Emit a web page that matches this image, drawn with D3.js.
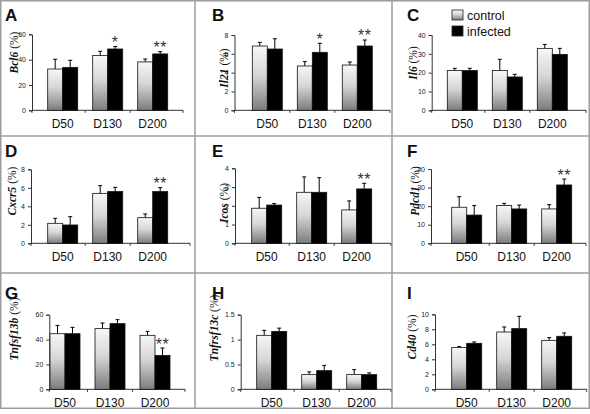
<!DOCTYPE html>
<html><head><meta charset="utf-8">
<script src="https://cdn.jsdelivr.net/npm/d3@7"></script>
<style>body{margin:0;background:#fff}svg{display:block}</style>
</head><body><svg id="c" width="590" height="414"></svg>
<script>
// ---- data ----
const categories = ["D50", "D130", "D200"];
const seriesNames = ["control", "infected"];
const panelLetters = ["A", "B", "C", "D", "E", "F", "G", "H", "I"];
const genes = ["Bcl6", "Il21", "Il6", "Cxcr5", "Icos", "Pdcd1", "Tnfsf13b", "Tnfrsf13c", "Cd40"];
const yMax = [60, 8, 40, 8, 4, 40, 60, 1.5, 10];
const yTickStep = [20, 2, 10, 2, 1, 10, 20, 0.5, 2];
const controlValues = [
  [32.6, 43.2, 38.2], [6.83, 4.71, 4.81], [21.1, 21.1, 32.9],
  [2.16, 5.4, 2.77], [1.87, 2.72, 1.78], [19.4, 20.4, 18.5],
  [44.7, 48.8, 43.4], [1.085, 0.295, 0.295], [5.56, 7.64, 6.53]];
const controlErrors = [
  [7.7, 3.4, 2.3], [0.39, 0.46, 0.32], [1.2, 6.0, 2.1],
  [0.54, 0.83, 0.40], [0.58, 0.82, 0.48], [5.7, 1.1, 2.3],
  [6.7, 4.5, 3.2], [0.10, 0.055, 0.10], [0.13, 0.67, 0.36]];
const infectedValues = [
  [33.9, 48.4, 44.5], [6.51, 6.16, 6.83], [21.1, 17.7, 29.7],
  [1.98, 5.59, 5.59], [2.04, 2.72, 2.9], [15.2, 18.5, 31.4],
  [44.7, 52.8, 27.3], [1.165, 0.375, 0.295], [6.13, 8.09, 7.07]];
const infectedErrors = [
  [5.6, 1.9, 1.8], [1.09, 0.96, 0.64], [1.2, 1.4, 3.2],
  [0.9, 0.46, 0.43], [0.08, 0.78, 0.3], [5.1, 2.1, 3.2],
  [5.1, 3.2, 5.9], [0.065, 0.105, 0.035], [0.18, 1.64, 0.44]];
const significance = [
  ["", "*", "**"], ["", "*", "**"], ["", "", ""],
  ["", "", "**"], ["", "", "**"], ["", "", "**"],
  ["", "", "**"], ["", "", ""], ["", "", ""]];

// ---- layout (pixel positions per panel) ----
const layout = [
  {ax: 32, axEnd: 183, y0: 110.3, yTop: 34.3, bar0: 47.7, lx: 14, ly: 52.5, tx: 5, ty: 21},
  {ax: 234.5, axEnd: 390, y0: 110.3, yTop: 35, bar0: 252.3, lx: 224, ly: 68, tx: 212, ty: 21},
  {ax: 431.7, axEnd: 586, y0: 110.3, yTop: 35, bar0: 447.3, lx: 413, ly: 63, tx: 407, ty: 21},
  {ax: 31, axEnd: 190, y0: 243.3, yTop: 169.3, bar0: 47.7, lx: 12, ly: 191, tx: 5, ty: 157},
  {ax: 235, axEnd: 391, y0: 243.3, yTop: 168.3, bar0: 251.7, lx: 224, ly: 203, tx: 212, ty: 157},
  {ax: 431, axEnd: 586, y0: 243.3, yTop: 169, bar0: 451.7, lx: 415, ly: 191, tx: 407, ty: 157},
  {ax: 49.3, axEnd: 185, y0: 389.3, yTop: 314.7, bar0: 50, lx: 14, ly: 329, tx: 5, ty: 299},
  {ax: 240.7, axEnd: 391, y0: 389.3, yTop: 314.7, bar0: 256.7, lx: 214, ly: 328, tx: 212, ty: 299},
  {ax: 435, axEnd: 586.7, y0: 389.3, yTop: 314.3, bar0: 451.7, lx: 412, ly: 337, tx: 407, ty: 299}
];
const barW = 15, step = 45;
const sans = "Arial, 'Liberation Sans', sans-serif";
const serif = "'Times New Roman', 'Liberation Serif', serif";

const svg = d3.select("#c");
const defs = svg.append("defs");
const grad = defs.append("linearGradient").attr("id", "gctl")
  .attr("x1", 0).attr("y1", 0).attr("x2", 0).attr("y2", 1);
grad.append("stop").attr("offset", "0%").attr("stop-color", "#f7f7f7");
grad.append("stop").attr("offset", "45%").attr("stop-color", "#d6d6d6");
grad.append("stop").attr("offset", "100%").attr("stop-color", "#7c7c7c");

// frame and dividers
const frame = svg.append("g").attr("stroke", "#9c9c9c").attr("stroke-width", 1.5).attr("fill", "none");
frame.append("rect").attr("x", 0.75).attr("y", 0.75).attr("width", 588.5).attr("height", 407.5);
[195, 392].forEach(x => frame.append("line").attr("x1", x).attr("x2", x).attr("y1", 0).attr("y2", 408.5));
[136, 273].forEach(y => frame.append("line").attr("x1", 0).attr("x2", 590).attr("y1", y).attr("y2", y));

layout.forEach((L, i) => {
  const g = svg.append("g");
  const y = d3.scaleLinear().domain([0, yMax[i]]).range([L.y0, L.yTop]);
  const xb = d3.scaleBand().domain(categories)
    .range([L.bar0 - step / 6, L.bar0 - step / 6 + 3 * step])
    .paddingInner(1 / 3).paddingOuter(1 / 6);
  const xs = d3.scaleBand().domain(seriesNames).range([0, xb.bandwidth()]);

  // y axis
  const ticks = d3.range(0, yMax[i] + yTickStep[i] / 2, yTickStep[i]);
  const yAxis = d3.axisLeft(y).tickValues(ticks).tickSize(3).tickPadding(3)
    .tickFormat(d => String(+d.toFixed(2)));
  const ya = g.append("g").attr("transform", `translate(${L.ax},0)`).call(yAxis);
  ya.select(".domain").attr("stroke", "#333");
  ya.selectAll(".tick line").attr("stroke", "#333");
  ya.selectAll(".tick text").attr("font-size", 7).attr("font-family", sans).attr("fill", "#222");

  // x axis line
  g.append("line").attr("x1", L.ax).attr("x2", L.axEnd).attr("y1", L.y0).attr("y2", L.y0)
    .attr("stroke", "#333");
  const xt = [L.ax, xb("D130") - xb.step() / 6, xb("D200") - xb.step() / 6, L.axEnd];
  xt.forEach(x => g.append("line").attr("x1", x).attr("x2", x).attr("y1", L.y0).attr("y2", L.y0 + 2.5).attr("stroke", "#333"));

  categories.forEach((c, j) => {
    const vals = [controlValues[i][j], infectedValues[i][j]];
    const errs = [controlErrors[i][j], infectedErrors[i][j]];
    seriesNames.forEach((s, k) => {
      const x = xb(c) + xs(s);
      const top = y(vals[k]);
      const cx = x + xs.bandwidth() / 2;
      const et = y(vals[k] + errs[k]);
      g.append("line").attr("x1", cx).attr("x2", cx).attr("y1", top).attr("y2", et)
        .attr("stroke", "#000").attr("stroke-width", 1);
      g.append("line").attr("x1", cx - 2).attr("x2", cx + 2).attr("y1", et).attr("y2", et)
        .attr("stroke", "#000").attr("stroke-width", 1);
      g.append("rect").attr("x", x).attr("y", top).attr("width", xs.bandwidth())
        .attr("height", L.y0 - top)
        .attr("fill", k === 0 ? "url(#gctl)" : "#000")
        .attr("stroke", "#111").attr("stroke-width", 0.8);
    });
    // category label
    g.append("text").attr("x", xb(c) + xb.bandwidth() / 2).attr("y", L.y0 + 18)
      .attr("text-anchor", "middle").attr("font-family", sans).attr("font-size", 12)
      .attr("fill", "#111").text(c);
    // significance
    const sig = significance[i][j];
    if (sig) {
      const cx = xb(c) + xs("infected") + xs.bandwidth() / 2;
      const cy = y(infectedValues[i][j] + infectedErrors[i][j]) - 7.5;
      g.append("text").attr("x", cx).attr("y", cy + 9).attr("text-anchor", "middle")
        .attr("font-family", sans).attr("font-size", 16).attr("fill", "#333")
        .attr("letter-spacing", 0.5).text(sig);
    }
  });

  // y label
  const yl = g.append("text").attr("transform", `translate(${L.lx},${L.ly}) rotate(-90)`)
    .attr("text-anchor", "middle").attr("dy", "0.35em").attr("font-size", 11.5).attr("fill", "#111");
  yl.append("tspan").attr("font-family", serif).attr("font-weight", "bold")
    .attr("font-style", "italic").text(genes[i]);
  yl.append("tspan").attr("font-family", serif).text(" (%)");

  // panel letter
  g.append("text").attr("x", L.tx).attr("y", L.ty).attr("font-family", sans)
    .attr("font-weight", "bold").attr("font-size", 17).attr("fill", "#111").text(panelLetters[i]);
});

// legend (in panel C)
const leg = svg.append("g");
seriesNames.forEach((s, k) => {
  leg.append("rect").attr("x", 452).attr("y", 10 + k * 16).attr("width", 11).attr("height", 10)
    .attr("fill", k === 0 ? "url(#gctl)" : "#000").attr("stroke", "#222").attr("stroke-width", 0.8);
  leg.append("text").attr("x", 467).attr("y", 19.5 + k * 16).attr("font-family", sans)
    .attr("font-size", 12.5).attr("fill", "#111").text(s);
});
</script></body></html>
